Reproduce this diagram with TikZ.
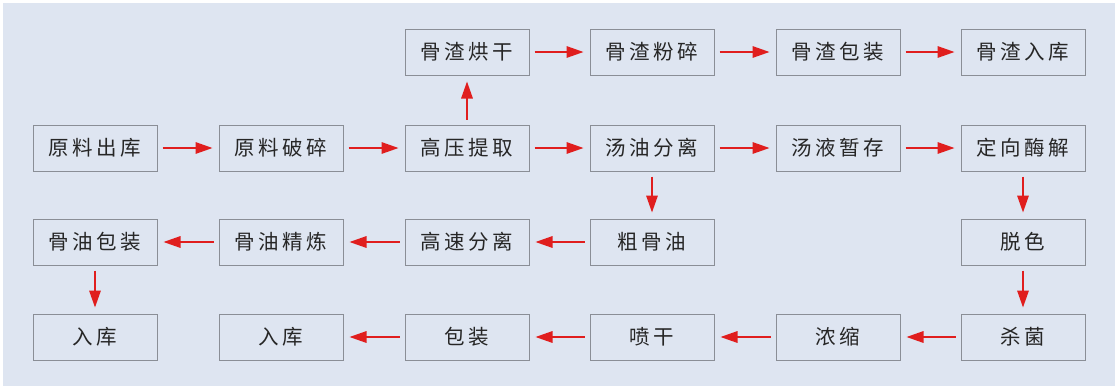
\documentclass[tikz,border=0pt]{standalone}
\usepackage{fontspec}
\newfontfamily\cjk[LetterSpace=17]{Noto Sans CJK SC}
\usetikzlibrary{arrows.meta}
\definecolor{bgc}{HTML}{DEE5F1}
\definecolor{boxc}{HTML}{8A8E96}
\definecolor{txtc}{HTML}{262626}
\definecolor{arr}{HTML}{E01E1E}
\tikzset{
  stepbox/.style={draw=boxc, line width=1pt, fill=bgc, minimum width=124pt, minimum height=46pt, inner sep=0pt, text=txtc, font=\cjk\fontsize{20.5pt}{23pt}\selectfont},
  flow/.style={draw=arr, line width=1.6pt, -{Triangle[length=17pt,width=11.5pt]}, shorten <=5pt, shorten >=6pt}
}
\begin{document}
\begin{tikzpicture}[x=1pt,y=-1pt]
\useasboundingbox (0,0) rectangle (1119,391);
\fill[white] (0,0) rectangle (1119,391);
\fill[bgc] (3,3) rectangle (1115,386);
% row 1
\node[stepbox] (a1) at (467,52) {骨渣烘干};
\node[stepbox] (a2) at (652,52) {骨渣粉碎};
\node[stepbox] (a3) at (838,52) {骨渣包装};
\node[stepbox] (a4) at (1023,52) {骨渣入库};
% row 2
\node[stepbox] (b1) at (95,148) {原料出库};
\node[stepbox] (b2) at (281,148) {原料破碎};
\node[stepbox] (b3) at (467,148) {高压提取};
\node[stepbox] (b4) at (652,148) {汤油分离};
\node[stepbox] (b5) at (838,148) {汤液暂存};
\node[stepbox] (b6) at (1023,148) {定向酶解};
% row 3
\node[stepbox] (c1) at (95,242) {骨油包装};
\node[stepbox] (c2) at (281,242) {骨油精炼};
\node[stepbox] (c3) at (467,242) {高速分离};
\node[stepbox] (c4) at (652,242) {粗骨油};
\node[stepbox] (c6) at (1023,242) {脱色};
% row 4
\node[stepbox] (d1) at (95,337) {入库};
\node[stepbox] (d2) at (281,337) {入库};
\node[stepbox] (d3) at (467,337) {包装};
\node[stepbox] (d4) at (652,337) {喷干};
\node[stepbox] (d5) at (838,337) {浓缩};
\node[stepbox] (d6) at (1023,337) {杀菌};
% arrows
\draw[flow] (a1) -- (a2);
\draw[flow] (a2) -- (a3);
\draw[flow] (a3) -- (a4);
\draw[flow] (b1) -- (b2);
\draw[flow] (b2) -- (b3);
\draw[flow] (b3) -- (b4);
\draw[flow] (b4) -- (b5);
\draw[flow] (b5) -- (b6);
\draw[flow] (b3) -- (a1);
\draw[flow] (b4) -- (c4);
\draw[flow] (b6) -- (c6);
\draw[flow] (c4) -- (c3);
\draw[flow] (c3) -- (c2);
\draw[flow] (c2) -- (c1);
\draw[flow] (c1) -- (d1);
\draw[flow] (c6) -- (d6);
\draw[flow] (d6) -- (d5);
\draw[flow] (d5) -- (d4);
\draw[flow] (d4) -- (d3);
\draw[flow] (d3) -- (d2);
\end{tikzpicture}
\end{document}
